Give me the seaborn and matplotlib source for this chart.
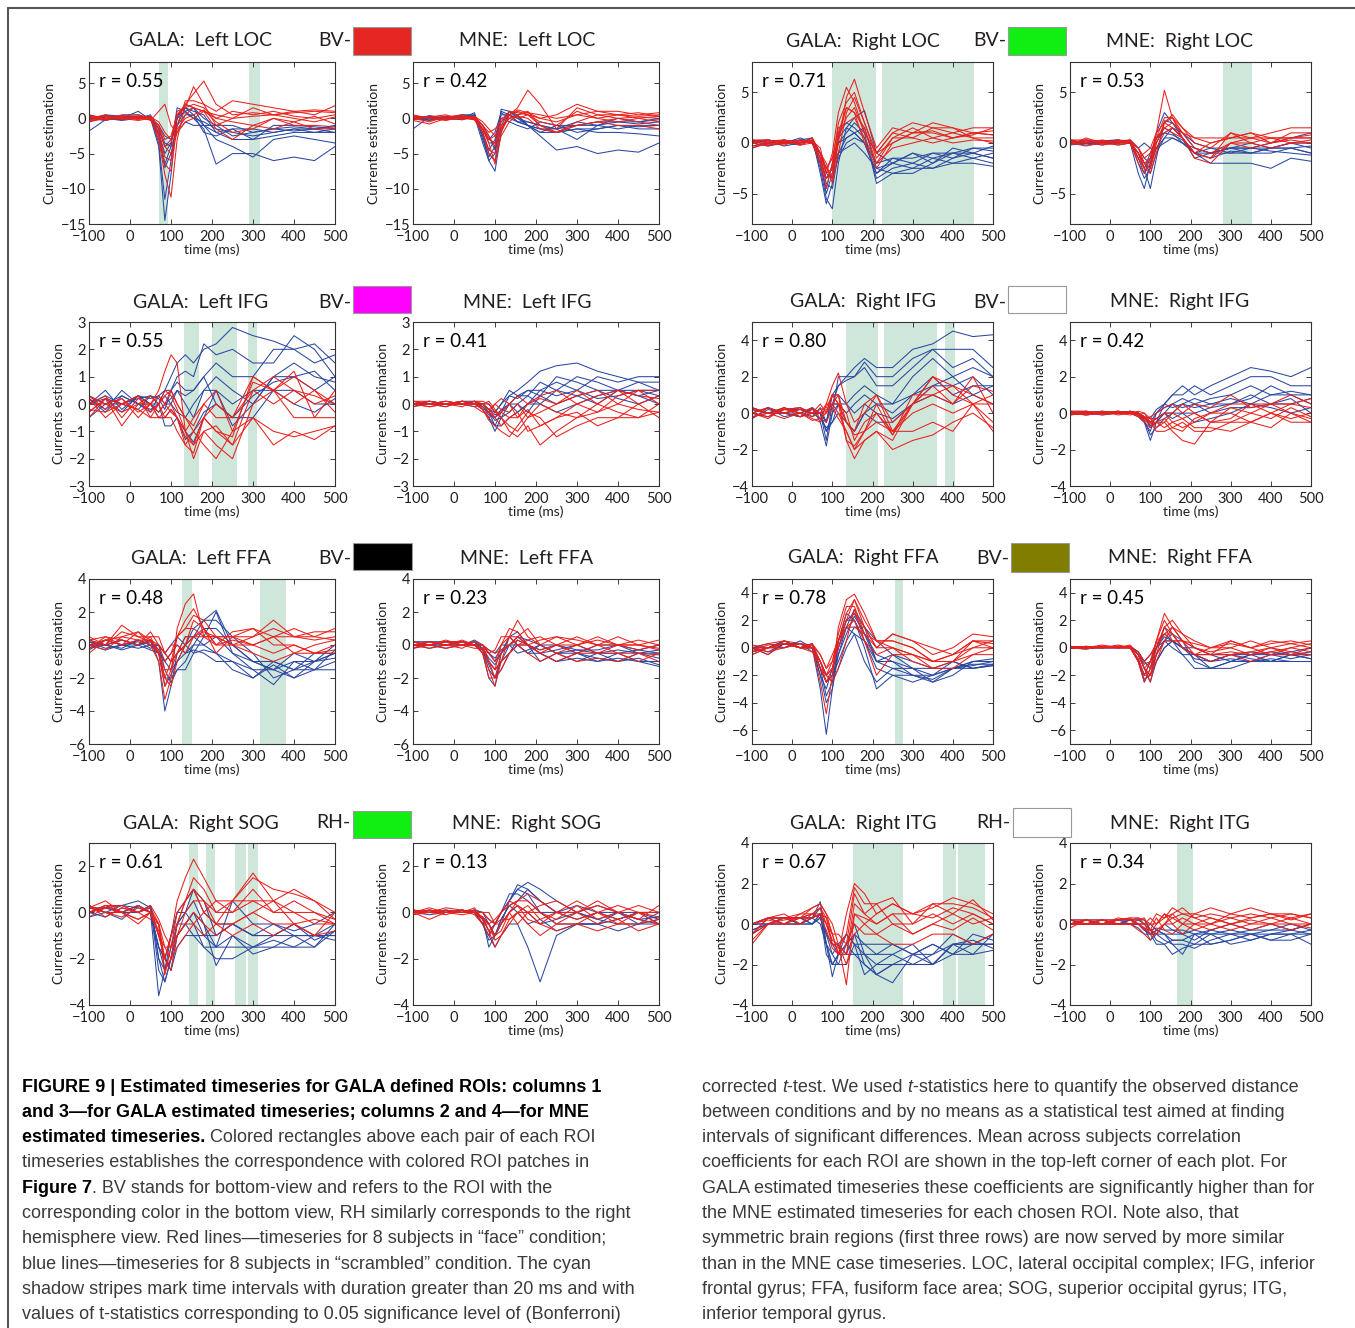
import matplotlib
matplotlib.use('Agg')
import numpy as np
import pandas as pd
import matplotlib.pyplot as plt
import seaborn as sns
from matplotlib import font_manager
from matplotlib.lines import Line2D
from matplotlib.patches import Rectangle

W, H = 1355, 1328

sns.set_style('white')
plt.rcParams['font.family'] = ['Lato', 'DejaVu Sans']

# time grid (ms) shared by every series
T = [-100, -60, -20, 20, 50, 70, 85, 100, 115, 135, 155, 180, 210, 250, 300, 350, 400, 450, 500]

# ---- Left LOC ----
loc_l_gala_face = [
    [0.3, 0.2, 0.4, 0.5, 0.0, -3.0, -8.0, -11.2, -3.0, 2.0, 3.5, 5.3, 2.0, 0.5, 0.8, 0.5, 1.0, 0.5, 1.8],
    [-0.2, 0.3, 0.0, 0.3, 0.2, -2.5, -6.5, -7.5, -1.0, 2.5, 2.5, 2.0, 1.0, 2.5, 2.0, 1.5, 1.0, 1.2, 1.0],
    [0.5, -0.3, 0.2, 0.0, -0.2, -2.0, -5.5, -6.0, 0.5, 2.0, 1.5, 1.0, 0.0, 1.0, 0.5, 1.0, 0.3, 0.0, 0.5],
    [-0.3, 0.0, 0.3, -0.2, 0.3, -1.5, -4.0, -3.5, 1.0, 1.5, 4.5, 2.0, -1.0, 0.0, 1.5, 0.5, 0.8, 1.0, 0.8],
    [0.0, 0.5, -0.2, 0.2, 0.0, -1.0, -3.0, -2.5, 0.5, 1.5, 2.0, 1.5, 0.0, -0.5, -1.0, 0.0, -0.5, 0.3, -0.8],
    [0.2, -0.2, 0.0, 0.3, -0.3, 1.0, 2.0, -1.0, -2.0, 0.5, 1.5, 1.0, 0.5, 0.0, 0.3, 0.5, 0.0, -0.5, 0.2],
    [-0.5, 0.0, 0.3, 0.0, 0.2, -0.5, -2.0, -3.0, -1.5, 0.0, 0.5, 1.2, -0.5, -2.0, -1.5, 0.0, -1.0, -1.0, -1.2],
    [0.0, 0.3, 0.0, -0.3, 0.0, -1.0, -4.0, -5.0, -2.0, -0.5, 0.0, 1.0, -1.5, -3.0, -1.0, -1.5, -0.5, -1.5, -1.5],
]
loc_l_gala_scr = [
    [0.5, 0.0, -0.2, 0.2, 0.0, -4.0, -14.5, -8.0, 0.5, 1.5, 0.5, -1.0, -2.0, -1.5, -1.5, -2.0, -1.5, -1.5, -1.2],
    [-0.3, 0.5, 0.3, 0.0, 0.3, -3.5, -11.5, -6.0, 0.0, 2.0, 1.5, 0.0, -1.0, -1.0, -2.0, -1.5, -1.8, -1.5, -2.0],
    [0.2, -0.3, 0.5, 0.5, 0.0, -2.5, -7.0, -5.0, -1.0, 1.5, 1.0, 0.5, -2.0, -3.0, -3.0, -2.5, -2.0, -2.0, -1.5],
    [-1.8, -0.2, 0.0, 1.0, -0.2, -2.0, -6.5, -4.0, 1.5, 1.0, 0.0, -1.5, -6.5, -5.0, -5.0, -6.0, -5.5, -6.0, -4.0],
    [0.0, 0.4, 0.2, 0.3, 0.2, -2.0, -5.0, -3.5, 0.5, 0.8, 0.0, -0.5, -1.5, -2.0, -2.5, -2.0, -1.5, -2.0, -2.0],
    [0.3, 0.0, -0.3, 0.0, 0.5, -1.5, -4.0, -3.0, 0.0, 1.0, 1.5, -1.0, -3.0, -4.0, -5.5, -3.0, -2.5, -3.0, -3.5],
    [-0.5, 0.2, 0.0, 0.2, 0.0, -1.5, -3.5, -4.0, -2.0, -0.5, -1.0, -1.0, -1.0, -2.5, -2.0, -1.5, -1.2, -1.5, -1.0],
    [0.0, -0.3, 0.3, 0.0, 0.2, -1.0, -2.5, -3.0, -1.0, 0.5, 0.5, -2.0, -2.5, -1.5, -3.0, -1.0, -1.0, -1.2, -1.5],
]
loc_l_mne_face = [
    [0.3, 0.0, 0.2, 0.5, 0.0, -1.5, -3.5, -6.5, -2.0, 0.5, 1.5, 4.0, 2.0, -1.5, 1.5, 0.5, 0.5, 0.3, 0.5],
    [-0.2, 0.3, 0.0, 0.0, 0.3, -1.0, -2.5, -4.0, -0.5, 1.0, 0.8, 0.5, 0.0, 0.5, 2.0, 1.0, 1.0, 0.5, 0.8],
    [0.0, -0.5, 0.3, 0.2, -0.2, -1.5, -3.0, -2.5, 0.0, 0.5, 1.0, 0.5, -1.0, -2.0, -0.5, 0.5, 0.0, 0.2, 0.0],
    [0.5, 0.0, -0.2, 0.0, 0.2, -1.0, -2.0, -1.5, -0.5, 0.5, 0.0, 0.5, -0.5, -1.0, 1.0, 0.0, -0.5, 0.0, -0.5],
    [-0.3, -0.8, 0.0, 0.3, 0.0, -2.0, -4.5, -5.0, -1.0, 0.0, 0.5, 1.0, -1.0, -2.0, -1.0, -0.5, 0.0, -0.5, -1.0],
    [0.0, 0.2, 0.5, -0.2, 0.3, -0.5, -1.5, -2.5, -1.5, 0.5, 1.2, 0.8, 0.5, 0.0, 0.5, 1.0, 0.5, 0.8, 0.3],
    [0.2, 0.0, -0.3, 0.2, 0.0, -1.0, -3.0, -3.5, -1.5, 0.0, 0.3, 0.0, -1.5, -2.0, -1.0, -0.5, -1.0, -1.0, -1.5],
    [-0.1, 0.3, 0.0, 0.0, -0.2, -2.0, -5.0, -6.0, -2.5, -0.5, 0.5, 0.8, 0.0, -0.5, 0.5, 0.0, 0.5, 0.0, 0.3],
]
loc_l_mne_scr = [
    [-1.5, 0.2, 0.0, 0.5, 0.5, -2.5, -6.0, -7.5, -2.0, 1.0, 0.5, -1.0, -2.5, -4.5, -4.0, -5.0, -4.5, -4.8, -3.5],
    [0.2, 0.0, 0.3, 0.0, 0.8, -3.0, -5.5, -4.0, 1.0, 0.5, 0.0, -1.0, -1.5, -2.0, -1.5, -2.0, -2.0, -2.2, -2.5],
    [0.0, -0.3, 0.0, 0.5, 0.3, -3.5, -6.0, -5.0, 1.3, 1.0, 0.0, -0.5, -1.0, -1.5, -3.0, -1.0, -1.5, -1.0, -1.0],
    [0.3, 0.2, -0.2, 0.0, 0.5, -2.0, -4.5, -3.0, 0.5, 0.5, -0.5, -1.0, -2.0, -2.0, -1.5, -1.5, -1.0, -1.2, -1.0],
    [0.0, 0.0, 0.2, 0.3, 0.0, -1.5, -3.5, -3.5, 0.0, -0.5, -1.0, -1.5, -0.5, -1.0, -1.0, -0.5, -0.5, -0.8, -0.5],
    [-0.2, 0.4, 0.0, -0.2, 0.3, -2.5, -5.0, -6.0, -1.0, 1.0, 0.3, -1.0, -1.5, -1.5, -1.0, -1.0, 0.0, -0.5, 0.0],
    [0.2, 0.0, 0.2, 0.2, 0.0, -1.0, -2.5, -4.5, -1.5, 0.5, -0.5, -1.0, -2.0, -1.0, -2.0, -1.5, -1.0, -1.5, -1.5],
    [0.0, -0.2, 0.0, 0.0, 0.2, -1.5, -3.0, -2.0, 0.8, 0.0, -0.5, -0.5, -1.0, -1.5, -0.5, -1.0, -0.5, -0.5, -0.2],
]

# ---- Right LOC ----
loc_r_gala_face = [
    [0.3, 0.0, 0.3, 0.0, 0.5, -1.0, -3.0, -1.0, 3.0, 5.5, 4.0, 1.0, -1.0, 1.0, 2.0, 1.5, 1.0, 1.5, 1.5],
    [0.0, 0.3, 0.0, 0.2, 0.0, -1.5, -2.5, -3.5, 0.0, 4.5, 6.3, 3.0, -0.5, 1.5, 1.0, 2.0, 1.5, 1.0, 1.2],
    [-0.3, 0.0, 0.2, -0.2, 0.3, -2.0, -4.5, -2.0, 2.0, 4.0, 5.0, 2.0, -1.5, 0.5, 1.5, 0.5, 1.0, 0.5, 0.5],
    [0.2, -0.2, 0.0, 0.3, 0.0, -1.0, -2.0, -4.0, -1.0, 3.0, 4.5, 2.0, -1.0, 0.0, 1.0, 1.0, 0.5, 1.0, 0.8],
    [0.0, 0.2, 0.3, 0.0, 0.2, -0.5, -3.0, -2.5, 1.0, 3.5, 3.0, 1.5, -2.0, 0.5, 0.5, 1.5, 1.5, 0.5, 0.0],
    [-0.5, 0.0, -0.2, 0.3, 0.0, -1.5, -3.5, -3.0, 0.5, 2.5, 3.5, 1.0, -1.0, 1.0, 0.5, 0.0, 0.5, 0.8, 1.5],
    [0.3, 0.3, 0.0, 0.0, 0.5, -1.0, -2.5, -1.5, 1.5, 2.0, 2.5, 0.5, -2.0, -0.5, 0.0, 0.5, 0.0, 0.3, 0.2],
    [0.0, -0.3, 0.2, -0.2, 0.0, -2.0, -3.5, -2.5, 0.5, 3.5, 3.0, 0.0, -2.5, 0.0, 1.0, 1.2, 0.5, 1.0, 0.8],
]
loc_r_gala_scr = [
    [0.0, 0.3, 0.0, 0.3, 0.5, -3.0, -6.0, -4.0, 0.5, 1.5, 1.0, 0.0, -3.0, -2.0, -2.5, -1.5, -2.0, -2.0, -2.3],
    [-0.3, 0.0, 0.2, 0.0, 0.3, -2.5, -5.5, -6.5, -2.0, 1.5, 2.5, 3.2, -1.0, -2.0, -1.0, -1.5, -1.0, -0.5, -0.5],
    [0.2, -0.2, 0.0, 0.5, 0.0, -2.0, -5.0, -3.0, 1.0, 2.0, 1.5, 0.5, -3.5, -2.5, -2.0, -2.5, -1.5, -1.0, -1.5],
    [0.0, 0.2, -0.3, 0.0, 0.5, -1.5, -4.0, -4.5, -1.0, 0.5, 1.0, 1.5, -2.5, -3.0, -3.0, -2.0, -1.0, -1.5, -1.0],
    [-0.5, 0.0, 0.3, 0.0, 0.2, -1.0, -3.0, -3.5, -1.5, 0.0, 0.5, 0.0, -3.0, -1.5, -1.5, -1.0, -1.5, -0.5, -0.8],
    [0.2, 0.3, 0.0, 0.3, 0.0, -2.0, -4.5, -2.0, 0.0, 1.0, 2.0, 1.0, -4.0, -3.0, -2.5, -2.5, -2.0, -1.5, -2.0],
    [0.0, -0.3, 0.0, -0.2, 0.3, -1.5, -3.5, -2.5, -1.0, -0.5, 0.0, -1.0, -2.5, -2.0, -1.0, -2.0, -0.5, -1.0, -0.3],
    [0.3, 0.0, 0.2, 0.2, 0.0, -1.0, -2.5, -1.5, 0.0, 0.5, 1.0, 0.0, -2.0, -1.5, -2.0, -1.0, -1.0, -1.0, -1.5],
]
loc_r_mne_face = [
    [0.0, 0.3, 0.0, 0.2, 0.0, -1.0, -2.0, -1.5, 1.0, 5.2, 2.5, 0.5, -1.0, 0.0, 0.5, 0.5, 0.0, 0.5, 0.5],
    [0.3, 0.0, 0.2, 0.0, 0.3, -1.5, -2.5, -3.0, -1.0, 2.0, 2.8, 1.5, 0.0, -0.5, 1.0, 0.5, 1.0, 1.5, 1.5],
    [-0.2, 0.5, 0.0, 0.3, 0.0, -1.0, -2.0, -2.5, 0.5, 2.5, 2.5, 1.0, 0.5, 0.0, 0.5, 1.0, 0.0, 1.0, 1.0],
    [0.0, 0.2, -0.2, 0.0, 0.2, -0.5, -1.5, -1.0, 0.5, 1.5, 2.0, 1.0, -0.5, -1.0, 0.0, 0.5, 0.5, 0.0, 0.3],
    [0.2, 0.0, 0.2, 0.0, 0.0, -2.0, -3.0, -2.0, 0.0, 2.0, 1.5, 0.5, -1.5, -2.0, 0.0, 0.0, -0.5, 0.0, 0.0],
    [0.0, -0.3, 0.0, 0.3, 0.2, -1.0, -2.5, -1.5, 0.5, 1.5, 1.0, 0.5, -1.0, -1.5, 1.0, 0.0, 0.5, 0.5, 0.5],
    [0.3, 0.3, 0.0, -0.2, 0.0, -1.5, -1.0, -0.5, 1.0, 2.0, 2.5, 1.5, 0.5, 0.5, 0.5, 1.0, 0.5, 0.5, 0.8],
    [0.0, 0.0, 0.3, 0.0, 0.3, -0.5, -2.0, -2.5, -0.5, 1.0, 1.5, 0.5, -1.0, -1.5, 0.0, -0.5, 0.0, 0.3, 0.0],
]
loc_r_mne_scr = [
    [0.0, 0.2, 0.0, 0.2, 0.0, -3.0, -4.5, -2.0, 1.0, 3.0, 2.0, 0.5, -1.0, -2.0, -2.0, -2.0, -2.5, -1.5, -1.8],
    [0.2, 0.0, 0.2, 0.3, 0.0, -1.0, -2.5, -4.5, -1.5, 2.2, 2.0, 1.0, -0.5, -1.0, -0.5, -0.5, -0.5, -0.5, -1.0],
    [-0.2, 0.0, 0.0, 0.0, 0.2, -2.0, -3.5, -2.5, 0.0, 1.5, 1.0, 0.0, -1.0, -0.5, -1.0, -0.5, 0.0, 0.5, 1.0],
    [0.0, 0.3, 0.2, -0.2, 0.0, -1.5, -2.5, -1.0, 0.5, 1.0, 1.5, 1.0, 0.0, -0.5, -0.5, -1.0, -0.5, 0.0, -0.5],
    [0.2, 0.0, -0.2, 0.2, 0.3, -0.5, -1.5, -2.0, -0.5, 0.5, 0.5, 0.0, -0.5, -1.0, -1.0, -1.0, -0.5, -0.5, -0.3],
    [0.0, -0.2, 0.0, 0.0, 0.0, -1.0, -2.0, -3.0, -1.0, 0.5, 1.5, 0.5, -1.5, -1.0, -0.5, 0.0, -0.5, 0.0, 0.0],
    [0.0, 0.0, 0.2, 0.3, 0.0, -0.5, 0.0, -0.5, -0.5, 0.0, 0.5, 0.0, -1.0, -1.0, -0.5, -0.5, -0.8, -1.0, -1.2],
    [0.3, 0.0, 0.0, 0.0, 0.2, -1.5, -3.0, -1.5, 0.5, 1.0, 0.8, 0.3, -1.0, -1.5, -0.8, -1.0, -1.0, -0.5, -1.0],
]

# ---- Left IFG ----
ifg_l_gala_face = [
    [0.0, 0.3, -0.5, 0.2, 0.0, 0.5, 1.2, 1.8, 1.5, -1.0, -2.0, -1.0, -1.5, -2.0, 0.0, 0.5, -0.5, -0.5, -0.5],
    [-0.5, 0.2, 0.0, 0.3, -0.3, 0.0, 0.5, 0.3, -0.2, -1.0, -1.5, -0.5, -1.0, -1.5, 0.5, 1.0, 0.5, 0.0, 0.3],
    [0.3, -0.2, 0.2, -0.5, 0.0, -0.3, 0.0, -0.3, -0.5, -1.5, -1.8, -0.5, -1.0, -1.2, 1.0, 0.5, 1.0, 0.5, 0.0],
    [0.0, 0.0, -0.3, 0.0, 0.3, 0.0, -0.5, -0.2, -0.5, -1.0, -0.5, 0.0, 0.5, -1.0, 0.8, 0.5, 1.2, -0.5, 0.5],
    [0.2, -0.5, 0.0, -0.2, -0.5, -0.5, -0.3, 0.0, -0.5, -1.2, -1.5, -1.0, -0.8, -1.5, -0.5, -1.0, -1.2, -1.0, -0.8],
    [-0.3, 0.2, -0.8, 0.0, 0.0, 0.3, 0.0, 0.5, 0.0, -0.5, -1.0, -0.5, 0.0, -0.5, 0.5, 0.0, 0.5, 0.3, 0.0],
    [0.3, 0.0, 0.2, -0.3, 0.0, -0.5, -0.5, -0.5, -1.0, -1.5, -1.0, -1.5, -2.0, -1.0, -0.5, -1.5, -1.0, -1.3, -0.8],
    [-0.2, -0.3, 0.0, 0.3, -0.5, 0.0, 0.3, 0.5, 0.0, -0.5, -0.8, 0.0, -0.5, -0.5, 1.0, 0.5, 0.0, 0.5, -0.3],
]
ifg_l_gala_scr = [
    [0.0, 0.3, 0.0, 0.3, 0.2, 0.3, 0.5, 1.0, 1.5, 1.8, 1.5, 2.0, 2.2, 2.8, 2.5, 2.3, 2.0, 2.2, 1.5],
    [0.2, -0.3, 0.3, 0.0, -0.2, 0.0, 0.5, 0.5, 1.0, 1.2, 1.0, 2.2, 1.8, 2.0, 1.5, 1.5, 2.5, 2.0, 1.0],
    [-0.3, 0.2, 0.0, -0.2, 0.3, 0.2, -0.2, 0.5, 0.8, 0.5, 0.5, 1.0, 1.5, 1.0, 1.0, 2.0, 2.0, 1.5, 1.8],
    [0.0, 0.5, -0.2, 0.3, 0.0, -0.3, 0.0, 0.2, 0.5, 0.0, -0.5, 0.5, 1.0, 0.5, 0.0, 1.0, 1.5, 1.0, 0.8],
    [0.3, 0.0, 0.3, 0.0, 0.0, -0.5, -0.5, -0.2, -0.5, -1.0, -1.4, -0.5, 0.5, 0.0, 0.5, 0.5, 0.5, 0.0, 0.0],
    [-0.5, 0.0, 0.0, 0.2, 0.3, 0.0, -0.8, -0.8, -0.5, -1.3, -1.0, -0.3, 0.0, -0.5, -0.5, 0.5, 0.0, -0.3, 0.2],
    [0.2, -0.2, 0.5, 0.0, -0.3, 0.3, 0.0, 0.0, -0.3, -0.5, 0.0, 0.5, 0.5, -0.8, 0.0, 1.0, 1.0, 0.5, 1.0],
    [0.0, 0.2, -0.3, 0.3, 0.0, 0.0, 0.3, 0.0, 0.5, 0.3, 0.5, 1.0, 0.0, -0.5, 0.3, 0.8, 1.0, 1.2, 0.5],
]
ifg_l_mne_face = [
    [0.0, 0.1, 0.0, 0.1, 0.0, -0.2, -0.5, -0.3, -0.5, -1.0, -1.2, -0.8, -1.5, -1.0, -0.5, -0.3, 0.0, -0.2, -0.3],
    [0.1, 0.0, 0.1, 0.0, 0.1, 0.0, -0.2, -0.5, -0.8, -0.5, -0.3, -1.0, -0.8, -0.5, 0.0, 0.3, 0.5, 0.3, 0.2],
    [0.0, -0.1, 0.0, 0.0, -0.1, -0.3, -0.3, 0.0, -0.2, -0.3, 0.0, -0.5, -0.3, 0.0, 0.3, 0.5, 0.0, 0.5, 0.5],
    [-0.1, 0.0, -0.1, 0.1, 0.0, 0.0, 0.1, -0.2, -0.5, -0.8, -1.0, -0.5, 0.0, -0.3, -0.5, 0.0, -0.3, -0.5, 0.0],
    [0.1, 0.1, 0.0, -0.1, 0.1, -0.2, -0.6, -0.8, -1.0, -1.2, -0.8, -0.3, -0.5, -1.2, -0.8, -0.5, -0.5, 0.0, -0.5],
    [0.0, 0.0, 0.1, 0.0, 0.0, 0.0, -0.2, 0.0, 0.2, 0.0, 0.3, 0.0, 0.3, 0.5, 0.0, -0.3, 0.3, 0.5, 0.0],
    [0.0, -0.1, 0.0, 0.1, 0.0, -0.1, -0.3, -0.5, -0.3, -0.5, -0.5, -0.2, -0.8, -0.5, -0.3, -0.8, -0.5, -0.5, -0.3],
    [0.1, 0.0, 0.0, 0.0, 0.1, 0.1, 0.0, -0.3, -0.3, 0.0, -0.5, 0.0, 0.2, 0.0, 0.5, 0.0, 0.5, 0.0, 0.3],
]
ifg_l_mne_scr = [
    [0.0, 0.1, 0.0, 0.0, 0.1, 0.0, -0.3, -0.8, -0.3, 0.3, 0.5, 0.8, 1.2, 1.4, 1.5, 1.2, 1.0, 0.8, 0.8],
    [0.1, 0.0, 0.0, 0.1, 0.0, -0.2, -0.5, -1.0, -0.5, 0.0, 0.3, 0.5, 0.5, 0.8, 0.5, 1.0, 0.8, 1.0, 1.0],
    [0.0, 0.0, 0.1, 0.0, -0.1, 0.0, -0.2, -0.3, 0.0, 0.3, 0.2, 0.5, 0.3, 1.0, 0.8, 0.5, 0.5, 0.5, 0.5],
    [-0.1, 0.1, 0.0, 0.0, 0.0, -0.1, -0.4, -0.5, -0.2, 0.0, -0.3, 0.0, 0.5, 0.3, 0.5, 0.2, 0.3, 0.5, 0.3],
    [0.0, 0.0, -0.1, 0.1, 0.1, -0.2, -0.5, -0.8, -0.8, -0.5, -0.3, 0.0, 0.0, -0.3, 0.0, 0.3, 0.5, 0.3, 0.0],
    [0.1, 0.0, 0.0, 0.0, 0.0, 0.0, 0.0, -0.3, 0.0, 0.5, 0.3, 0.3, 0.8, 0.5, 1.0, 0.8, 0.5, 0.8, 0.5],
    [0.0, 0.1, 0.0, 0.0, 0.1, -0.1, -0.3, -0.6, -0.5, -0.3, 0.0, 0.3, 0.0, 0.5, 0.3, 0.5, 0.2, 0.0, 0.3],
    [0.0, 0.0, 0.0, 0.1, 0.0, 0.0, -0.2, -0.4, -0.3, 0.0, 0.0, -0.3, 0.3, 0.0, 0.3, 0.0, 0.5, 0.3, 0.5],
]

# ---- Right IFG ----
ifg_r_gala_face = [
    [0.2, 0.0, 0.3, 0.0, -0.3, -0.5, 0.5, 1.5, 2.2, 0.5, -0.5, 0.0, 1.0, -1.0, 0.5, 2.0, 1.5, 1.0, 0.5],
    [-0.3, 0.3, 0.0, -0.2, 0.0, 0.5, 0.0, 1.0, 1.0, -1.5, -2.5, -1.5, -1.0, -1.5, 0.5, 1.5, 0.5, 2.0, 0.0],
    [0.0, -0.2, 0.2, 0.3, -0.2, 0.0, 0.2, 0.5, 0.0, -1.0, -2.0, -1.0, 0.5, -1.2, 1.0, 1.0, 1.5, 0.5, 1.0],
    [0.3, 0.0, -0.3, 0.0, 0.3, -0.3, 0.0, 1.0, 0.5, -1.5, -1.8, -1.0, 0.0, -1.0, -1.0, -0.5, -1.0, 0.5, -0.5],
    [0.0, 0.3, 0.0, 0.2, 0.0, 0.0, 0.5, 0.5, 0.5, -0.5, -1.0, 0.5, 1.0, -0.5, 0.5, 2.0, 1.0, 0.5, -1.0],
    [-0.2, 0.0, 0.2, 0.0, -0.4, -0.3, -0.5, 0.3, -0.3, -1.0, -2.0, -1.5, -1.0, -2.0, -1.5, -1.2, -0.5, 0.0, -0.8],
    [0.3, 0.0, 0.0, 0.3, 0.0, 0.2, 0.3, 1.0, 0.5, 0.0, -1.5, -0.5, 0.0, -1.2, 0.5, 1.0, 0.5, 1.5, 1.2],
    [0.0, -0.3, 0.3, -0.2, 0.2, 0.0, 0.0, 0.5, 1.0, -0.5, -1.2, -1.0, -0.5, -1.0, 0.0, 0.5, 0.0, 0.5, 0.5],
]
ifg_r_gala_scr = [
    [0.0, 0.3, 0.0, 0.2, 0.0, 0.0, -1.5, 0.5, 1.5, 2.0, 2.5, 3.0, 2.5, 2.5, 3.5, 3.8, 4.5, 4.2, 4.3],
    [0.2, 0.0, 0.3, 0.0, 0.3, -0.5, -1.8, 0.0, 2.0, 2.0, 2.0, 2.8, 2.0, 2.0, 3.0, 3.5, 3.5, 3.5, 2.5],
    [-0.3, 0.2, 0.0, -0.2, 0.0, 0.0, -0.5, 1.0, 1.5, 1.8, 2.0, 2.5, 1.5, 1.5, 2.5, 3.5, 2.5, 3.0, 2.0],
    [0.0, -0.2, 0.2, 0.3, 0.0, 0.0, -1.0, 0.0, 0.5, 0.5, 1.0, 1.5, 1.0, 0.5, 2.0, 3.0, 2.0, 2.5, 2.0],
    [0.3, 0.0, 0.0, 0.0, -0.2, 0.3, -0.5, 0.5, 0.5, -0.5, -1.0, 0.0, 0.5, 0.0, 1.0, 1.5, 1.5, 2.0, 1.0],
    [0.0, 0.3, -0.2, 0.0, 0.2, 0.0, -1.0, -0.5, 0.5, 0.0, 0.5, 1.0, 0.5, 0.5, 1.0, 2.0, 1.0, 1.5, 1.5],
    [-0.2, 0.0, 0.2, 0.2, 0.0, -0.3, -0.8, -0.5, 0.0, -0.5, -1.0, 0.0, -0.5, -0.5, 0.5, 1.0, 0.5, 1.0, 0.5],
    [0.2, 0.0, 0.0, -0.2, 0.3, 0.0, -0.5, 1.0, 1.0, 0.5, 0.0, 0.5, 0.0, -0.3, 0.5, 1.5, 2.0, 1.0, 1.5],
]
ifg_r_mne_face = [
    [0.0, 0.1, 0.0, 0.1, 0.0, -0.2, -0.5, -0.8, -0.5, -0.5, -1.0, -1.5, -1.7, -0.5, -0.5, 0.0, 0.5, 0.0, -0.5],
    [0.1, 0.0, 0.1, 0.0, 0.1, 0.0, -0.3, -0.5, -0.3, 0.0, -0.5, -0.8, -0.5, 0.0, 0.5, 0.5, 0.0, 0.5, 0.3],
    [0.0, -0.1, 0.0, 0.0, 0.0, -0.1, 0.0, -0.3, -0.8, -0.5, 0.0, -0.3, 0.0, -0.5, -0.3, 0.5, 0.5, 1.0, 0.5],
    [-0.1, 0.0, 0.0, 0.1, 0.0, 0.0, -0.2, -0.5, -1.0, -1.0, -0.8, -0.5, -1.0, -1.0, -0.5, -0.5, -0.8, 0.0, -0.3],
    [0.1, 0.1, -0.1, 0.0, 0.1, -0.1, -0.3, -0.2, 0.0, 0.3, 0.5, 0.0, 0.5, 0.3, 1.0, 0.3, 0.5, 0.5, 0.8],
    [0.0, 0.0, 0.1, -0.1, 0.0, 0.1, 0.0, -0.5, -0.5, -0.3, -0.8, -1.0, -0.3, 0.0, 0.0, -0.5, 0.0, -0.3, 0.0],
    [0.0, -0.1, 0.0, 0.0, -0.1, 0.0, -0.2, -0.3, -0.3, 0.0, 0.0, 0.5, 0.0, -0.5, 0.3, 0.0, -0.3, 0.3, -0.2],
    [0.1, 0.0, 0.0, 0.1, 0.0, -0.1, -0.4, -0.6, -0.5, -0.8, -0.5, -0.3, -0.8, -0.8, -1.0, -0.5, 0.0, -0.5, -0.5],
]
ifg_r_mne_scr = [
    [0.0, 0.0, 0.1, 0.0, 0.1, 0.0, -0.5, -1.5, -0.5, 0.5, 1.0, 1.5, 1.0, 1.5, 2.0, 2.5, 2.3, 2.0, 2.5],
    [0.1, 0.0, 0.0, 0.0, 0.0, -0.2, -0.5, -1.0, 0.0, 0.5, 1.0, 1.0, 1.5, 1.0, 1.5, 2.0, 2.0, 1.5, 1.5],
    [0.0, 0.1, 0.0, 0.1, 0.0, 0.0, -0.3, -0.5, 0.0, 0.3, 0.5, 0.8, 0.5, 0.8, 1.0, 1.5, 1.0, 1.2, 1.0],
    [0.0, 0.0, -0.1, 0.0, 0.1, 0.0, -0.2, -0.8, -0.5, 0.0, 0.0, 0.5, 0.3, 0.5, 0.8, 0.5, 1.0, 1.0, 0.5],
    [-0.1, 0.0, 0.0, 0.0, 0.0, -0.1, -0.4, -1.2, -0.8, -0.3, 0.0, 0.0, 0.0, 0.3, 0.5, 1.0, 0.5, 0.5, 0.8],
    [0.1, 0.1, 0.0, 0.1, 0.0, 0.0, -0.2, -0.3, 0.2, 0.5, 0.3, 0.5, 0.8, 0.5, 0.5, 0.8, 1.5, 1.0, 1.0],
    [0.0, 0.0, 0.1, 0.0, 0.0, -0.1, -0.3, -0.5, -0.3, 0.0, -0.3, 0.0, -0.5, -0.3, 0.0, 0.5, 0.3, 0.0, 0.3],
    [0.0, -0.1, 0.0, 0.0, 0.1, 0.0, -0.2, -0.7, -0.5, 0.0, 0.5, 0.3, 0.5, 0.0, 0.3, 0.3, 0.5, 0.8, 0.0],
]

# ---- Left FFA ----
ffa_l_gala_face = [
    [0.0, 0.3, 0.5, 0.8, 0.0, -1.0, -3.3, -2.0, 1.0, 2.5, 3.1, 0.5, 0.5, 0.5, 0.5, 1.5, 0.5, 0.8, 0.8],
    [0.3, 0.0, 1.2, 0.5, 0.5, -0.5, -2.5, -1.5, 0.5, 1.5, 2.2, 1.0, 0.0, 0.8, 1.0, 0.5, 1.0, 0.5, 1.0],
    [-0.2, 0.5, 0.0, 0.3, 0.3, -0.5, -2.0, -1.0, 0.5, 1.0, 1.8, 1.5, 0.5, 0.5, 0.0, 0.5, 0.5, 0.5, 0.3],
    [0.5, 0.0, 0.3, 0.0, 0.8, 0.0, -1.0, -0.5, 0.5, 1.0, 1.0, 0.5, 0.5, 0.0, 0.5, 1.0, 0.5, 0.3, 0.5],
    [0.0, -0.3, 0.5, 0.3, 0.0, -0.5, -1.5, -1.5, -0.5, 0.5, 0.5, 1.0, -0.5, 0.5, 1.0, 0.0, 0.0, -0.5, 0.0],
    [-0.5, 0.3, 0.0, 0.8, 0.3, 0.0, -0.5, -1.0, -0.5, 0.0, 0.5, 0.8, 0.5, 0.0, -0.5, -1.0, -0.5, -0.5, -0.3],
    [0.3, 0.5, 0.3, 0.0, 0.5, 0.5, -0.5, 0.0, 0.0, -0.5, 0.5, 0.5, 0.0, 0.3, 0.0, 0.5, -0.5, 0.0, 0.3],
    [0.0, 0.0, 0.8, 0.5, 0.2, -0.3, -2.0, -2.5, -1.0, 0.0, 1.5, 1.0, 0.0, 0.0, 0.0, -0.5, 0.0, -0.5, -0.5],
]
ffa_l_gala_scr = [
    [0.0, 0.3, 0.0, 0.0, 0.3, -1.0, -4.0, -2.5, -0.5, 0.0, 0.5, 1.5, 2.1, 0.0, -1.0, -1.5, -1.0, -1.0, -0.5],
    [0.3, 0.0, -0.2, 0.3, 0.0, -0.5, -2.5, -1.8, -1.0, 0.0, 1.0, 1.5, 1.5, 0.5, -0.5, -2.0, -1.5, -1.5, -1.0],
    [-0.2, 0.0, 0.3, 0.0, -0.3, -0.5, -2.0, -2.0, -1.5, -1.0, 0.0, 1.0, 1.0, 0.0, -1.0, -1.0, -1.5, -0.5, -0.5],
    [0.0, -0.3, 0.0, -0.2, 0.0, 0.0, -1.5, -2.3, -1.5, -1.5, -0.5, 0.5, 2.0, -0.5, -1.5, -2.4, -1.0, -1.5, -0.3],
    [0.2, 0.0, 0.3, 0.0, 0.2, -0.5, -1.0, -0.5, 0.0, -0.5, -0.3, -0.5, -1.0, -1.0, -1.5, -1.5, -2.0, -1.5, -1.5],
    [-0.3, 0.3, 0.0, 0.3, 0.0, 0.0, -0.5, 0.0, 0.5, 0.0, -0.5, -0.3, -0.5, -1.5, -2.0, -1.0, -1.5, -1.0, 0.0],
    [0.0, 0.0, -0.3, 0.0, 0.3, -0.3, -1.0, -1.5, -1.0, -0.5, 0.0, 0.0, 0.5, -0.5, -1.0, -1.5, -0.5, -1.0, -0.5],
    [0.2, -0.2, 0.0, 0.2, -0.2, 0.0, -0.5, -1.0, -0.5, 0.5, 0.5, 0.0, -0.5, -1.0, -2.0, -1.2, -2.0, -1.0, -0.8],
]
ffa_l_mne_face = [
    [0.0, 0.2, 0.0, 0.3, 0.0, -0.5, -1.5, -2.5, -1.0, 0.5, 1.5, 0.5, 0.0, -0.5, 0.0, 0.3, 0.0, -0.3, 0.0],
    [0.2, 0.0, 0.2, 0.0, 0.2, 0.0, -1.0, -1.5, 0.0, 1.0, 0.8, 0.0, -0.5, 0.0, 0.5, 0.0, 0.5, 0.0, -0.3],
    [0.0, -0.2, 0.0, 0.2, 0.0, -0.3, -0.5, -1.0, 0.0, 0.5, 0.5, 1.0, 0.0, 0.5, 0.0, -0.5, 0.0, 0.3, 0.0],
    [-0.2, 0.0, 0.3, 0.0, 0.0, -0.5, -2.0, -2.0, -0.5, 0.0, 0.5, 0.0, -0.5, -1.0, -0.5, -0.5, -0.5, -1.0, -0.5],
    [0.0, 0.2, 0.0, -0.2, 0.2, 0.0, -0.5, -0.3, 0.5, 0.5, 0.0, 0.3, 0.5, 0.0, 0.0, 0.5, 0.0, 0.0, 0.3],
    [0.2, 0.0, -0.2, 0.0, 0.0, -0.3, -1.0, -1.5, -1.0, -0.5, 0.0, -0.5, -1.0, -0.5, -1.0, -0.8, -1.0, -0.5, -1.0],
    [0.0, 0.0, 0.2, 0.2, 0.0, 0.0, -0.3, -0.5, -0.3, 0.0, 0.3, 0.0, 0.3, 0.5, 0.3, 0.0, 0.0, 0.0, -0.2],
    [-0.2, 0.2, 0.0, 0.0, -0.2, -0.2, -1.0, -2.0, -1.5, -0.5, 0.0, 0.0, -0.3, 0.0, -0.5, 0.0, -0.5, -0.5, -0.6],
]
ffa_l_mne_scr = [
    [0.0, 0.0, 0.2, 0.0, 0.2, -0.5, -2.0, -2.5, -0.5, 0.5, 0.8, 0.0, -0.5, -1.0, -0.5, -0.8, -1.0, -0.8, -1.2],
    [0.2, 0.2, 0.0, 0.2, 0.0, -0.3, -1.5, -2.0, -1.0, 0.0, 0.5, 0.3, 0.0, -0.5, -0.5, -1.0, -0.5, -1.0, -1.0],
    [0.0, 0.0, -0.2, 0.0, 0.3, 0.0, -0.5, -1.0, -0.5, 0.0, 0.0, -0.5, -0.5, -0.3, 0.0, -0.5, -0.3, -0.5, -0.5],
    [-0.2, 0.0, 0.0, 0.2, 0.0, -0.2, -1.0, -1.5, -1.0, -0.5, 0.3, 0.0, -1.0, -0.5, -1.0, -0.5, -1.0, -0.5, -0.8],
    [0.0, 0.2, 0.2, 0.0, 0.0, 0.0, -0.3, -0.5, 0.0, 0.0, -0.5, -0.3, 0.0, 0.0, -0.5, 0.0, 0.0, -0.3, 0.0],
    [0.2, 0.0, 0.0, 0.0, 0.2, -0.2, -0.8, -1.2, -0.5, 0.5, 0.0, 0.0, -0.5, -1.0, -0.8, -1.0, -0.8, -1.0, -1.3],
    [0.0, -0.2, 0.0, 0.0, 0.0, -0.3, -1.2, -2.0, -1.5, -0.5, 0.0, -0.5, 0.0, -0.5, -0.3, -0.5, -0.5, -0.3, -0.5],
    [0.0, 0.0, 0.2, 0.2, 0.0, 0.0, -0.5, -0.8, -0.3, 0.0, 0.5, 0.0, -0.3, 0.0, -0.3, -0.3, 0.0, -0.5, -0.3],
]

# ---- Right FFA ----
ffa_r_gala_face = [
    [-0.3, 0.0, 0.3, 0.0, 0.0, -2.5, -4.8, -2.0, 1.5, 3.5, 3.9, 2.5, 0.5, 0.5, 0.0, -1.0, -0.5, 0.5, 0.5],
    [0.0, 0.3, 0.5, 0.3, 0.2, -1.0, -2.5, -1.5, 0.5, 2.5, 3.5, 1.5, 0.0, 1.0, 0.5, -0.5, 0.0, 1.0, 0.8],
    [-0.5, 0.0, 0.3, 0.0, -0.3, -1.0, -2.0, -1.0, 1.0, 3.0, 3.0, 1.0, 0.5, 0.5, 0.0, -1.0, -1.0, 0.5, 0.3],
    [0.0, -0.3, 0.0, 0.3, 0.0, -1.5, -2.5, -2.0, 0.5, 2.0, 2.5, 1.5, 0.0, 0.0, -0.5, -1.5, -1.0, 0.0, 0.0],
    [-0.2, 0.2, 0.3, 0.0, 0.0, -1.0, -2.0, -1.5, 0.0, 1.5, 2.0, 0.5, -0.5, 0.0, -1.0, -1.5, -1.5, -0.5, 0.0],
    [0.0, -0.5, 0.5, 0.0, 0.3, -0.5, -1.5, -0.5, 0.5, 1.5, 1.5, 1.0, 0.0, 1.0, 0.5, 0.0, -0.5, 0.0, 0.5],
    [-0.3, 0.0, 0.0, 0.3, 0.0, -1.5, -2.0, -2.5, -1.5, 0.5, 2.8, 0.5, -2.0, -0.5, -0.5, -1.0, -1.0, -0.5, -0.5],
    [0.2, 0.0, 0.3, 0.0, 0.2, -0.5, -1.5, -1.0, 0.5, 2.0, 3.5, 2.0, 0.5, 0.0, -0.5, -1.0, -0.5, 0.5, 0.0],
]
ffa_r_gala_scr = [
    [-0.3, 0.0, 0.5, 0.0, 0.0, -3.0, -6.3, -3.0, 0.5, 2.5, 2.0, 0.0, -3.0, -2.0, -2.0, -2.5, -1.5, -1.5, -1.2],
    [0.0, -0.5, 0.3, 0.3, 0.0, -2.0, -4.0, -3.0, -0.5, 1.5, 2.8, 1.5, -1.0, -1.5, -2.0, -2.3, -1.5, -1.0, -1.0],
    [0.0, 0.0, 0.5, 0.0, 0.3, -1.5, -3.5, -2.5, 0.0, 2.0, 2.5, 1.0, -0.5, -1.0, -1.5, -2.0, -1.0, -1.5, -1.3],
    [-0.5, 0.0, 0.3, 0.0, 0.0, -1.5, -2.5, -2.0, -1.0, 0.5, 1.5, 1.5, 0.5, -0.5, -1.0, -1.5, -1.5, -1.0, -1.0],
    [0.0, 0.3, 0.0, 0.3, -0.3, -1.0, -2.0, -2.5, -1.5, 0.0, 1.0, 0.5, -1.5, -2.0, -2.5, -2.0, -1.5, -1.2, -1.2],
    [0.0, -0.3, 0.3, 0.0, 0.0, -2.0, -3.0, -1.5, 0.5, 2.0, 2.0, 0.5, -1.0, -0.5, -1.5, -2.5, -2.0, -1.0, -0.8],
    [-0.3, 0.0, 0.0, 0.5, 0.0, -1.5, -2.5, -2.0, -0.5, 1.0, 2.3, 1.0, -1.0, -1.0, -2.0, -2.0, -1.5, -1.3, -1.0],
    [0.0, 0.0, 0.3, 0.0, 0.3, -1.0, -2.0, -1.5, 0.0, 1.5, 1.0, -1.0, -2.5, -1.5, -1.5, -1.5, -1.0, -1.5, -1.3],
]
ffa_r_mne_face = [
    [0.0, 0.1, 0.0, 0.2, 0.0, -1.0, -2.5, -1.5, 0.5, 2.5, 1.5, 0.5, 0.0, -0.5, 0.5, 0.0, -0.5, 0.0, 0.3],
    [0.1, 0.0, 0.1, 0.0, 0.2, -0.5, -1.5, -2.5, -0.5, 1.5, 2.0, 1.0, 0.5, 0.0, 0.0, 0.5, 0.0, 0.3, 0.5],
    [0.0, 0.0, 0.2, 0.0, 0.0, -0.8, -2.0, -1.0, 0.5, 1.0, 1.5, 0.5, -0.5, -0.5, -0.5, -0.3, 0.0, -0.5, 0.0],
    [0.1, 0.0, 0.0, 0.1, 0.1, -0.5, -1.0, -0.5, 0.3, 1.0, 1.0, 0.0, -0.5, -1.0, -0.5, -1.0, -0.5, -0.5, -0.5],
    [0.0, 0.1, 0.0, 0.0, 0.0, -1.0, -2.0, -2.0, 0.0, 1.5, 0.5, 0.5, 0.3, 0.0, 0.5, 0.0, 0.3, 0.5, 0.2],
    [0.0, -0.1, 0.1, 0.1, 0.0, -0.3, -1.0, -1.5, -0.5, 0.5, 1.5, 1.0, 0.0, -0.3, 0.0, -0.5, -0.3, 0.0, -0.3],
    [0.1, 0.0, 0.0, 0.0, 0.1, -0.5, -1.5, -1.0, 0.5, 2.0, 1.0, 0.0, -0.5, 0.0, 0.3, 0.0, 0.5, 0.3, 0.0],
    [0.0, 0.0, 0.1, 0.0, 0.0, -0.5, -1.5, -2.0, -1.0, 0.5, 0.5, 0.5, 0.0, -0.5, -0.3, -0.5, 0.0, -0.3, -0.5],
]
ffa_r_mne_scr = [
    [0.0, 0.1, 0.0, 0.0, 0.1, -1.0, -2.5, -1.5, 0.0, 1.5, 1.0, 0.0, -0.5, -1.5, -1.0, -1.0, -0.8, -1.0, -1.0],
    [0.1, 0.0, 0.0, 0.1, 0.0, -0.5, -1.5, -2.0, -0.5, 0.5, 1.0, 0.5, -1.0, -1.5, -1.0, -0.5, -1.0, -0.5, -0.8],
    [0.0, 0.0, 0.1, 0.0, 0.0, -0.8, -2.0, -1.0, 0.0, 1.0, 0.5, 0.0, -0.5, -1.0, -0.5, -0.5, -0.5, -0.8, -0.5],
    [0.0, 0.1, 0.0, 0.0, 0.1, -0.3, -1.0, -1.5, -0.5, 0.5, 0.5, 0.0, -0.5, -0.5, -1.0, -0.5, -0.3, -0.5, -0.3],
    [0.1, 0.0, 0.0, 0.1, 0.0, -1.0, -2.3, -2.0, -1.0, 0.0, 0.5, -0.5, -1.5, -1.5, -1.5, -1.0, -1.0, -1.0, -1.0],
    [0.0, 0.0, 0.0, 0.0, 0.0, -0.5, -1.2, -1.0, 0.0, 0.8, 0.5, 0.0, 0.0, -0.5, -0.5, -0.3, -0.5, -0.3, 0.0],
    [0.0, -0.1, 0.1, 0.0, 0.0, -0.5, -1.5, -2.5, -1.0, 0.0, 0.5, 0.0, -0.8, -1.0, -0.8, -1.0, -0.5, -0.5, -0.5],
    [0.1, 0.0, 0.0, 0.1, 0.1, -0.3, -1.0, -0.5, 0.0, 0.5, 0.0, -0.5, -0.5, -1.0, -0.5, -0.8, -1.0, -0.5, -0.8],
]

# ---- Right SOG ----
sog_r_gala_face = [
    [0.2, 0.5, 0.0, 0.3, 0.0, -1.0, -2.0, -1.0, 0.5, 1.5, 2.3, 1.5, 0.5, 0.5, 1.5, 1.0, 0.8, 0.5, 0.0],
    [0.0, 0.3, 0.3, 0.0, 0.2, -0.5, -2.5, -2.0, -0.5, 0.5, 1.5, 1.0, 0.0, 0.5, 1.7, 0.5, 1.0, 0.5, -0.3],
    [0.3, 0.0, 0.0, -0.3, 0.0, -0.5, -2.7, -1.5, 0.0, 0.5, 1.0, 0.5, -0.5, 0.5, 0.5, 0.0, 0.5, 0.0, -0.5],
    [-0.2, 0.2, 0.3, 0.0, -0.3, -0.5, -2.0, -2.5, -1.0, 0.0, 0.5, 0.5, 0.0, 0.0, 0.5, 0.5, 0.0, -0.5, -0.5],
    [0.0, 0.3, 0.0, -0.5, 0.0, -1.0, -1.5, -1.5, -1.0, -0.5, 0.0, -0.5, -1.0, -0.5, 0.0, -0.5, -0.5, -1.0, 0.0],
    [0.3, -0.2, 0.2, 0.0, 0.3, -0.3, -1.0, -1.5, -1.0, -0.5, -0.5, 0.0, -0.5, -0.5, 0.0, 0.5, -0.5, -0.3, -0.5],
    [0.0, 0.2, 0.0, -0.3, 0.0, -0.8, -2.0, -1.0, -0.5, 0.5, 1.0, 0.0, 0.5, 0.0, 1.0, 0.0, 0.0, 0.0, -0.3],
    [0.2, 0.0, -0.2, 0.2, 0.0, -0.5, -1.5, -2.0, -1.5, -1.0, -0.5, -1.0, -0.5, -1.0, -0.5, -1.0, -0.5, -1.0, -0.8],
]
sog_r_gala_scr = [
    [0.0, 0.2, 0.0, 0.3, 0.0, -3.6, -2.5, -1.0, 0.0, 0.5, 1.0, 0.5, -1.0, -0.5, -1.0, -1.0, -0.5, -1.0, -0.5],
    [0.2, 0.0, 0.3, 0.5, 0.2, -2.5, -3.0, -2.0, -0.5, 0.0, 0.5, -0.5, -2.3, -1.0, -1.5, -1.0, -1.0, -1.0, -1.0],
    [0.0, 0.3, 0.0, 0.0, 0.3, -2.0, -2.5, -1.5, -0.5, 0.0, -0.5, -1.5, -2.0, -2.0, -1.5, -1.2, -1.5, -1.5, -0.8],
    [0.3, 0.0, -0.3, 0.3, 0.0, -1.5, -2.0, -2.5, -1.0, -0.5, 0.0, -0.5, -1.5, 0.5, -0.5, -0.5, -1.0, -1.0, -1.0],
    [0.0, -0.2, 0.2, 0.0, 0.2, -2.0, -3.0, -2.0, -1.0, -0.5, -1.0, -1.0, -1.5, -1.5, -1.5, -1.5, -1.0, -1.5, -0.5],
    [0.2, 0.2, 0.0, 0.3, 0.0, -1.5, -2.0, -1.0, 0.0, 0.0, 1.0, 0.0, -0.5, -0.5, -1.0, -0.5, -0.8, -0.5, 0.0],
    [-0.2, 0.0, 0.0, 0.0, 0.3, -1.0, -2.0, -2.5, -1.5, -1.0, -1.0, -1.5, -1.5, -1.0, -1.8, -1.5, -1.5, -1.0, -1.2],
    [0.0, 0.2, 0.3, 0.2, 0.0, -1.5, -2.5, -2.0, -0.5, -0.5, 0.0, -1.0, -1.0, -0.5, -1.0, -1.0, -0.5, -1.2, -0.8],
]
sog_r_mne_face = [
    [0.0, 0.2, 0.0, 0.1, 0.0, -0.3, -0.5, -1.0, -0.5, 0.0, 0.5, 0.5, 0.0, -0.5, 0.0, 0.3, 0.0, -0.3, -0.5],
    [0.1, 0.0, 0.1, 0.0, 0.1, -0.5, -1.0, -0.5, 0.0, 0.5, 0.3, 0.0, -0.5, 0.0, 0.5, 0.0, 0.3, 0.0, 0.0],
    [0.0, -0.3, 0.0, 0.0, 0.0, -0.2, -0.8, -1.5, -1.0, -0.5, 0.0, -0.5, -1.0, -0.5, -0.5, -0.8, -0.5, -0.5, -0.3],
    [-0.1, 0.0, 0.2, 0.1, -0.1, -0.5, -0.5, -0.3, 0.0, 0.3, 0.5, 0.8, 0.5, 0.0, -0.3, 0.0, -0.5, 0.0, -0.2],
    [0.0, 0.1, 0.0, -0.1, 0.0, 0.0, -0.3, -0.5, -0.3, -0.3, 0.0, 0.0, 0.3, 0.5, 0.0, 0.5, 0.0, 0.3, 0.0],
    [0.1, 0.0, 0.0, 0.0, 0.2, -0.3, -0.8, -1.0, -0.8, 0.0, 0.3, -0.3, -0.5, -0.8, -0.5, 0.0, -0.3, -0.8, -0.5],
    [0.0, 0.0, -0.1, 0.1, 0.0, 0.0, 0.0, -0.5, -0.5, 0.0, -0.5, 0.0, 0.0, -0.3, 0.3, -0.3, 0.0, -0.3, 0.3],
    [0.0, 0.1, 0.0, 0.0, 0.0, -0.2, -0.5, -1.2, -1.0, -0.3, 0.0, 0.3, -0.3, 0.0, 0.0, -0.5, -0.3, 0.0, -0.5],
]
sog_r_mne_scr = [
    [0.0, 0.1, 0.0, 0.1, 0.0, -0.5, -1.0, -0.5, 0.0, 0.5, 1.0, 1.3, 1.0, 0.5, 0.0, -0.3, -0.5, -0.5, -0.3],
    [0.1, 0.0, 0.1, 0.0, 0.1, -0.3, -1.5, -1.0, -0.5, 0.5, 1.2, 1.0, 0.5, 0.0, 0.3, 0.0, -0.3, 0.0, -0.5],
    [0.0, 0.0, 0.0, 0.1, 0.0, -0.5, -1.0, -1.5, -1.0, -0.5, -0.5, -1.5, -3.0, -1.0, -0.5, -0.5, 0.0, -0.3, -0.5],
    [0.0, 0.1, 0.0, 0.0, 0.1, 0.0, -0.5, -1.0, -0.3, 0.3, 0.5, 1.0, 0.5, 0.0, -0.3, 0.0, 0.0, -0.5, 0.0],
    [0.1, 0.0, 0.0, 0.0, 0.0, -0.3, -0.8, -0.5, 0.0, 0.8, 0.8, 0.5, 0.0, -0.5, -0.5, -0.5, -0.3, 0.0, -0.3],
    [0.0, 0.0, 0.1, 0.0, 0.0, -0.2, -0.5, -1.0, -0.5, 0.0, 0.3, 0.0, -0.5, -0.3, 0.0, 0.3, 0.0, -0.3, -0.2],
    [0.0, -0.1, 0.0, 0.1, 0.0, -0.5, -1.2, -1.0, -0.3, 0.3, 0.0, -0.5, -0.3, -0.8, -0.5, -0.5, -0.8, -0.5, -0.5],
    [0.1, 0.0, 0.0, 0.0, 0.1, 0.0, -0.3, -0.5, 0.0, 0.5, 1.0, 0.8, 0.0, 0.0, 0.0, -0.3, 0.0, 0.0, 0.0],
]

# ---- Right ITG ----
itg_r_gala_face = [
    [-0.5, 0.3, 0.3, 0.3, 0.8, 1.0, 0.5, -0.5, -1.5, 0.5, 2.0, 1.5, 0.5, 1.0, 0.5, 0.8, 1.3, 1.0, 0.5],
    [-1.0, 0.0, 0.0, 0.5, 0.5, 0.8, 0.3, -1.0, -1.2, -0.5, 1.8, 1.0, 1.0, 1.3, 0.0, 1.0, 0.5, 1.2, 0.2],
    [0.0, 0.3, 0.5, 0.0, 0.3, 0.5, 0.0, -0.5, -1.5, -1.5, 1.0, 0.5, 0.0, 0.5, 0.5, 0.3, 0.8, 0.5, 0.0],
    [-0.5, 0.0, 0.2, 0.3, 0.5, 0.8, 0.0, -1.0, -1.0, -3.0, 0.5, 0.0, -0.5, 0.0, -0.5, 0.0, 0.5, 0.0, 0.3],
    [0.0, 0.3, 0.0, 0.3, 0.5, 0.5, 0.3, -0.5, -0.5, -1.0, 0.0, -0.5, -0.5, -1.0, -1.0, -0.5, -0.5, -1.0, -0.5],
    [-0.8, 0.0, 0.3, 0.5, 0.8, 1.0, 0.5, 0.0, -1.0, -2.0, -0.5, 0.0, 0.5, 1.0, 0.5, 1.0, 1.0, 0.8, 0.3],
    [0.0, 0.2, 0.0, 0.0, 0.5, 0.3, -0.3, -1.2, -1.5, -1.0, 1.5, 0.5, 1.0, 0.0, 0.0, 0.5, 0.0, 0.5, 0.0],
    [-0.5, 0.3, 0.3, 0.3, 0.3, 0.5, 0.0, -0.8, -1.0, -1.5, 0.5, 0.3, 0.0, 0.5, -0.5, 0.0, -0.3, 0.3, -0.3],
]
itg_r_gala_scr = [
    [-0.3, 0.0, 0.3, 0.3, 0.3, 1.1, -1.0, -2.6, -1.5, -1.0, -0.5, -2.0, -2.5, -2.9, -1.5, -2.0, -1.5, -1.5, -1.3],
    [0.0, 0.3, 0.3, 0.0, 0.0, 0.5, -1.5, -2.0, -2.0, -1.0, 0.0, -1.5, -2.0, -2.0, -2.0, -1.5, -1.0, -1.0, -1.0],
    [-0.5, 0.0, 0.0, 0.3, 0.3, 0.0, -1.0, -1.5, -1.0, -1.5, -0.5, -1.0, -1.5, -1.5, -1.0, -2.0, -1.0, -1.0, -0.5],
    [0.0, 0.3, 0.3, 0.0, 0.0, 0.3, -0.5, -1.0, -1.5, -1.0, -1.5, -2.0, -2.5, -2.0, -1.5, -1.5, -0.5, -1.0, -1.0],
    [-0.3, 0.0, 0.0, 0.0, 0.3, 0.5, -1.0, -2.0, -1.5, -0.5, -1.0, -1.5, -1.5, -1.0, -1.5, -1.0, -1.5, -0.5, -0.8],
    [0.0, 0.0, 0.3, 0.3, 0.0, 0.3, -0.5, -1.5, -2.0, -2.0, -1.0, -2.5, -2.0, -1.5, -2.0, -2.0, -1.0, -0.8, -1.2],
    [-0.5, 0.3, 0.0, 0.0, 0.3, 0.8, -0.5, -1.0, -1.0, -0.5, -1.0, -1.0, -1.0, -1.0, -1.5, -1.0, -1.5, -1.0, -1.0],
    [0.0, 0.0, 0.3, 0.3, 0.0, 0.5, -1.0, -2.0, -1.5, -1.5, -1.5, -1.5, -2.5, -2.0, -2.0, -2.0, -1.0, -1.5, -0.5],
]
itg_r_mne_face = [
    [0.0, 0.2, 0.0, 0.2, 0.3, 0.0, -0.3, 0.0, 0.5, 0.3, 0.5, 0.8, 0.3, 0.5, 0.3, 0.5, 0.3, 0.5, 0.3],
    [0.2, 0.0, 0.2, 0.0, 0.0, 0.2, 0.3, -0.3, -0.5, 0.0, 0.3, 0.0, 0.5, 0.8, 0.5, 0.3, 0.5, 0.2, 0.5],
    [0.0, 0.0, 0.0, 0.3, 0.2, 0.0, -0.2, -0.5, 0.0, 0.5, 0.0, 0.3, 0.0, 0.3, 0.0, 0.2, 0.0, 0.3, 0.0],
    [-0.2, 0.2, 0.0, 0.0, 0.0, -0.3, -0.5, -0.8, -0.3, 0.0, 0.5, 0.0, -0.3, 0.0, 0.3, 0.0, 0.3, 0.0, -0.2],
    [0.0, 0.0, 0.2, 0.2, 0.3, 0.3, 0.0, 0.3, 0.0, 0.3, 0.8, 0.5, 0.3, 0.0, 0.5, 0.8, 0.5, 0.5, 0.3],
    [0.2, 0.2, 0.0, 0.0, 0.0, 0.0, -0.2, -0.3, 0.3, -0.3, -0.5, 0.0, 0.0, -0.3, 0.0, -0.3, 0.0, -0.3, 0.0],
    [0.0, 0.0, 0.0, 0.2, 0.2, 0.3, 0.2, 0.0, 0.0, 0.5, 0.3, 0.5, 0.5, 0.3, 0.0, 0.3, 0.5, 0.3, 0.5],
    [0.0, 0.2, 0.2, 0.0, 0.0, 0.0, 0.0, -0.5, -0.5, 0.0, 0.0, -0.5, 0.0, 0.0, -0.3, 0.0, 0.0, 0.0, 0.0],
]
itg_r_mne_scr = [
    [0.0, 0.2, 0.0, 0.2, 0.2, 0.0, -0.3, -0.5, -1.0, -1.0, -1.5, -1.2, -1.0, -1.0, -0.8, -0.5, -0.5, -0.3, -0.5],
    [0.2, 0.0, 0.2, 0.0, 0.0, 0.0, -0.2, -0.8, -0.5, -0.5, -1.0, -1.5, -0.5, -0.5, -1.0, -0.8, -0.5, -0.5, -1.0],
    [0.0, 0.0, 0.0, 0.2, 0.2, 0.2, 0.0, 0.0, -0.3, -0.5, -0.5, -0.5, -0.8, -0.3, -0.5, -0.3, 0.0, -0.3, 0.0],
    [0.0, 0.2, 0.2, 0.0, 0.0, -0.2, -0.5, -0.5, -0.5, -0.8, -1.0, -1.0, -1.2, -0.8, -0.5, -0.8, -0.5, -0.5, -0.3],
    [0.2, 0.0, 0.0, 0.0, 0.2, 0.0, 0.0, -0.3, -0.2, -0.3, -0.3, -0.5, -0.3, -0.5, -0.3, -0.5, -0.3, 0.0, -0.3],
    [0.0, 0.0, 0.2, 0.2, 0.0, 0.0, -0.3, -0.3, -0.8, -1.0, -0.8, -0.8, -0.5, -1.0, -0.8, -0.5, -0.8, -0.5, -0.5],
    [0.0, 0.0, 0.0, 0.0, 0.2, 0.2, 0.2, -0.3, -0.5, 0.0, -0.3, -0.3, -0.5, -0.3, 0.0, -0.3, -0.3, -0.3, 0.0],
    [0.2, 0.2, 0.0, 0.0, 0.0, 0.0, -0.3, -0.5, -0.3, -0.5, -0.8, -0.8, -1.0, -0.5, -0.5, -0.5, -0.8, -0.8, -0.5],
]

# significance stripes (ms)
stripes_loc_l = [(71, 92), (290, 316)]
stripes_loc_r = [(100, 209), (224, 453)]
stripes_loc_r_mne = [(282, 354)]
stripes_ifg_l = [(132, 168), (200, 260), (288, 310)]
stripes_ifg_r = [(133, 213), (228, 361), (380, 405)]
stripes_ffa_l = [(126, 150), (317, 380)]
stripes_ffa_r = [(255, 277)]
stripes_sog_r = [(143, 165), (185, 207), (257, 284), (288, 313)]
stripes_itg_r = [(151, 276), (376, 407), (414, 480)]
stripes_itg_r_mne = [(166, 206)]

r_values = ['0.55', '0.42', '0.71', '0.53', '0.55', '0.41', '0.80', '0.42',
            '0.48', '0.23', '0.78', '0.45', '0.61', '0.13', '0.67', '0.34']
roi_names = ['Left LOC', 'Right LOC', 'Left IFG', 'Right IFG',
             'Left FFA', 'Right FFA', 'Right SOG', 'Right ITG']
view_tags = ['BV-', 'BV-', 'BV-', 'BV-', 'BV-', 'BV-', 'RH-', 'RH-']
roi_colors = ['#e62622', '#11ee11', '#ff00ff', 'white', 'black', '#807d00', '#11ee11', 'white']

RED = '#e8201c'
BLUE = '#2a48a0'
STRIPE = '#cfe6da'
TXT = '#231f20'

# layout in pixels
col_x = [(89, 335), (413, 659), (752, 993), (1070, 1311)]
row_y = [(62, 224), (322, 486), (579, 744), (843, 1005)]
title_y = [41, 302, 558, 823]
title_cx = [201, 527, 863, 1180]
box_px = [(353, 27, 411, 55), (1008, 27, 1066, 55), (353, 286, 411, 313), (1008, 286, 1066, 313),
          (353, 543, 412, 570), (1011, 543, 1069, 572), (353, 811, 411, 838), (1013, 808, 1071, 837)]

panels = [
    (0, 0, loc_l_gala_face, loc_l_gala_scr, (-15, 8), [-15, -10, -5, 0, 5], stripes_loc_l),
    (0, 1, loc_l_mne_face, loc_l_mne_scr, (-15, 8), [-15, -10, -5, 0, 5], []),
    (0, 2, loc_r_gala_face, loc_r_gala_scr, (-8, 8), [-5, 0, 5], stripes_loc_r),
    (0, 3, loc_r_mne_face, loc_r_mne_scr, (-8, 8), [-5, 0, 5], stripes_loc_r_mne),
    (1, 0, ifg_l_gala_face, ifg_l_gala_scr, (-3, 3), [-3, -2, -1, 0, 1, 2, 3], stripes_ifg_l),
    (1, 1, ifg_l_mne_face, ifg_l_mne_scr, (-3, 3), [-3, -2, -1, 0, 1, 2, 3], []),
    (1, 2, ifg_r_gala_face, ifg_r_gala_scr, (-4, 5), [-4, -2, 0, 2, 4], stripes_ifg_r),
    (1, 3, ifg_r_mne_face, ifg_r_mne_scr, (-4, 5), [-4, -2, 0, 2, 4], []),
    (2, 0, ffa_l_gala_face, ffa_l_gala_scr, (-6, 4), [-6, -4, -2, 0, 2, 4], stripes_ffa_l),
    (2, 1, ffa_l_mne_face, ffa_l_mne_scr, (-6, 4), [-6, -4, -2, 0, 2, 4], []),
    (2, 2, ffa_r_gala_face, ffa_r_gala_scr, (-7, 5), [-6, -4, -2, 0, 2, 4], stripes_ffa_r),
    (2, 3, ffa_r_mne_face, ffa_r_mne_scr, (-7, 5), [-6, -4, -2, 0, 2, 4], []),
    (3, 0, sog_r_gala_face, sog_r_gala_scr, (-4, 3), [-4, -2, 0, 2], stripes_sog_r),
    (3, 1, sog_r_mne_face, sog_r_mne_scr, (-4, 3), [-4, -2, 0, 2], []),
    (3, 2, itg_r_gala_face, itg_r_gala_scr, (-4, 4), [-4, -2, 0, 2, 4], stripes_itg_r),
    (3, 3, itg_r_mne_face, itg_r_mne_scr, (-4, 4), [-4, -2, 0, 2, 4], stripes_itg_r_mne),
]

fig = plt.figure(figsize=(W / 100, H / 100), dpi=100)


def fx(x):
    return x / W


def fy(y):
    return 1 - y / H


for k, (r, c, face, scr, ylim, yticks, stripes) in enumerate(panels):
    x0, x1 = col_x[c]
    y0, y1 = row_y[r]
    ax = fig.add_axes([fx(x0), fy(y1), (x1 - x0) / W, (y1 - y0) / H])

    for a, b in stripes:
        ax.axvspan(a, b, color=STRIPE, lw=0, zorder=0)

    rows = []
    for cond, arr in (('scrambled', scr), ('face', face)):
        for i, series in enumerate(arr):
            for t, v in zip(T, series):
                rows.append((t, v, f'{cond}{i}', cond))
    df = pd.DataFrame(rows, columns=['t', 'v', 'subj', 'cond'])
    sns.lineplot(data=df, x='t', y='v', hue='cond', units='subj', estimator=None,
                 hue_order=['scrambled', 'face'], palette={'face': RED, 'scrambled': BLUE},
                 legend=False, lw=0.75, sort=False, ax=ax)

    ax.set_xlim(-100, 500)
    ax.set_ylim(*ylim)
    ax.set_xticks([-100, 0, 100, 200, 300, 400, 500])
    ax.set_yticks(yticks)
    ax.tick_params(direction='in', top=True, right=True, bottom=True, left=True,
                   length=3.5, width=0.6, labelsize=10.5, colors=TXT)
    ax.tick_params(axis='x', pad=4)
    ax.tick_params(axis='y', pad=2)
    for s in ax.spines.values():
        s.set_color('#333333')
        s.set_linewidth(0.8)
    ax.set_xlabel('time (ms)', fontsize=10, color=TXT, labelpad=0)
    ax.set_ylabel('Currents estimation', fontsize=10, color=TXT, labelpad=3)
    ax.text(0.04, 0.88, f'r = {r_values[k]}', transform=ax.transAxes, fontsize=13.5,
            color='black', va='center', ha='left')

    method = 'GALA' if c in (0, 2) else 'MNE'
    roi = roi_names[r * 2 + (1 if c >= 2 else 0)]
    fig.text(fx(title_cx[c]), fy(title_y[r]), f'{method}:  {roi}', fontsize=14,
             color=TXT, ha='center', va='center')

# colored ROI boxes with their view tags
for j, (bx0, by0, bx1, by1) in enumerate(box_px):
    fig.add_artist(Rectangle((fx(bx0), fy(by1)), (bx1 - bx0) / W, (by1 - by0) / H,
                             transform=fig.transFigure, facecolor=roi_colors[j],
                             edgecolor='#999999', lw=0.8))
    fig.text(fx(bx0 - 2), fy(title_y[j // 2]), view_tags[j], fontsize=14, color=TXT,
             ha='right', va='center')

# frame around the figure
fig.add_artist(Line2D([fx(8), 1], [fy(8), fy(8)], transform=fig.transFigure, color='#555555', lw=1.5))
fig.add_artist(Line2D([fx(8), fx(8)], [fy(8), 0], transform=fig.transFigure, color='#555555', lw=1.5))

# caption
names = {f.name for f in font_manager.fontManager.ttflist}
cap_font = 'Liberation Sans Narrow' if 'Liberation Sans Narrow' in names else 'Liberation Sans'
renderer = fig.canvas.get_renderer()

probe = fig.text(0, 0, 'timeseries establishes the correspondence with colored ROI patches in',
                 fontsize=13, family=cap_font)
pw = probe.get_window_extent(renderer).width
probe.remove()
cap_size = 13 * 566 / pw

left_lines = [
    [('FIGURE 9 | Estimated timeseries for GALA defined ROIs: columns 1', 'bold', 'normal')],
    [('and 3\u2014for GALA estimated timeseries; columns 2 and 4\u2014for MNE', 'bold', 'normal')],
    [('estimated timeseries.', 'bold', 'normal'), (' Colored rectangles above each pair of each ROI', 'normal', 'normal')],
    [('timeseries establishes the correspondence with colored ROI patches in', 'normal', 'normal')],
    [('Figure 7', 'bold', 'normal'), ('. BV stands for bottom-view and refers to the ROI with the', 'normal', 'normal')],
    [('corresponding color in the bottom view, RH similarly corresponds to the right', 'normal', 'normal')],
    [('hemisphere view. Red lines\u2014timeseries for 8 subjects in \u201cface\u201d condition;', 'normal', 'normal')],
    [('blue lines\u2014timeseries for 8 subjects in \u201cscrambled\u201d condition. The cyan', 'normal', 'normal')],
    [('shadow stripes mark time intervals with duration greater than 20 ms and with', 'normal', 'normal')],
    [('values of t-statistics corresponding to 0.05 significance level of (Bonferroni)', 'normal', 'normal')],
]
right_lines = [
    [('corrected ', 'normal', 'normal'), ('t', 'normal', 'italic'), ('-test. We used ', 'normal', 'normal'),
     ('t', 'normal', 'italic'), ('-statistics here to quantify the observed distance', 'normal', 'normal')],
    [('between conditions and by no means as a statistical test aimed at finding', 'normal', 'normal')],
    [('intervals of significant differences. Mean across subjects correlation', 'normal', 'normal')],
    [('coefficients for each ROI are shown in the top-left corner of each plot. For', 'normal', 'normal')],
    [('GALA estimated timeseries these coefficients are significantly higher than for', 'normal', 'normal')],
    [('the MNE estimated timeseries for each chosen ROI. Note also, that', 'normal', 'normal')],
    [('symmetric brain regions (first three rows) are now served by more similar', 'normal', 'normal')],
    [('than in the MNE case timeseries. LOC, lateral occipital complex; IFG, inferior', 'normal', 'normal')],
    [('frontal gyrus; FFA, fusiform face area; SOG, superior occipital gyrus; ITG,', 'normal', 'normal')],
    [('inferior temporal gyrus.', 'normal', 'normal')],
]


def draw_lines(x_start, lines):
    for n, segs in enumerate(lines):
        y = 1087 + n * 25.3
        x = x_start
        for txt, weight, style in segs:
            col = 'black' if weight == 'bold' else '#3a3a3a'
            t = fig.text(fx(x), fy(y), txt, fontsize=cap_size, family=cap_font,
                         fontweight=weight, fontstyle=style, color=col, ha='left', va='center')
            x = t.get_window_extent(renderer).x1


draw_lines(22, left_lines)
draw_lines(702, right_lines)

fig.savefig('out.png', dpi=100)
